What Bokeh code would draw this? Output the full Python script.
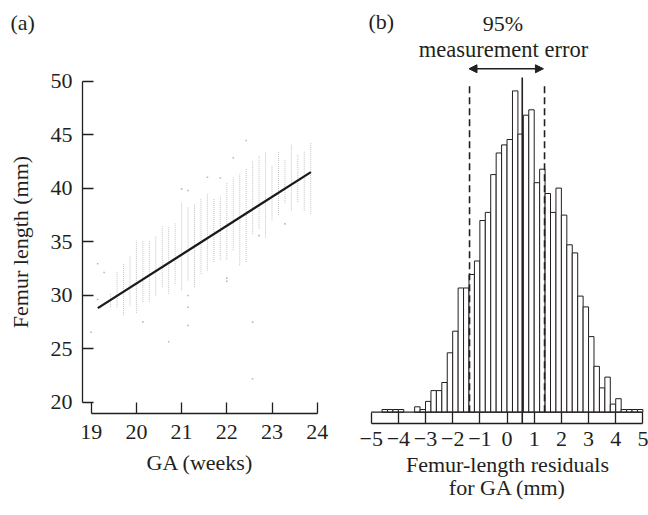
from bokeh.plotting import figure
from bokeh.models import FixedTicker, Label, Arrow, NormalHead, Title
from bokeh.embed import file_html
from bokeh.resources import INLINE

FONT = "Liberation Serif"
INK = "#231f20"
FS = "22px"

# ---------------- Panel (a): femur length vs GA ----------------
col_ga = [19.429, 19.571, 19.714, 19.857, 20.0, 20.143, 20.286, 20.429, 20.571, 20.714,
          20.857, 21.0, 21.143, 21.286, 21.429, 21.571, 21.714, 21.857, 22.0, 22.143,
          22.286, 22.429, 22.571, 22.714, 22.857, 23.0, 23.143, 23.286, 23.429, 23.571,
          23.714, 23.857]
col_lo = [28.88, 28.88, 28.16, 29.03, 28.35, 29.35, 29.35, 29.97, 30.75, 30.13,
          31.07, 30.44, 31.38, 30.75, 32.0, 32.3, 33.1, 33.3, 33.3, 34.2,
          32.8, 33.1, 35.7, 36.2, 35.4, 37.0, 37.5, 38.6, 37.9, 38.7,
          37.9, 37.6]
col_hi = [30.22, 32.19, 32.94, 33.62, 35.11, 35.11, 35.11, 35.58, 36.51, 36.36,
          36.73, 38.69, 38.22, 38.54, 39.0, 39.47, 39.0, 39.3, 40.5, 41.0,
          41.3, 41.8, 42.6, 43.1, 43.4, 42.1, 43.4, 42.7, 44.1, 43.2,
          43.5, 44.3]
out_ga = [19.0, 19.143, 19.143, 19.286, 20.143, 20.714, 21.0, 21.143, 21.143, 21.143,
          21.143, 21.571, 21.857, 22.0, 22.0, 22.143, 22.429, 22.571, 22.571, 22.714, 23.286]
out_fl = [26.54, 32.94, 29.60, 32.12, 27.51, 25.65, 39.94, 39.78, 29.97, 28.88,
          27.17, 41.03, 40.95, 31.6, 31.3, 42.84, 44.46, 27.48, 22.19, 35.57, 36.67]
fit_ga = [19.146, 23.86]
fit_fl = [28.79, 41.5]
a_xticks = [19, 20, 21, 22, 23, 24]
a_yticks = [20, 25, 30, 35, 40, 45, 50]

# ---------------- Panel (b): residual histogram ----------------
bin_edges = [-5.0, -4.8, -4.6, -4.4, -4.2, -4.0, -3.8, -3.6, -3.4, -3.2,
             -3.0, -2.8, -2.6, -2.4, -2.2, -2.0, -1.8, -1.6, -1.4, -1.2,
             -1.0, -0.8, -0.6, -0.4, -0.2, 0.0, 0.2, 0.4, 0.6, 0.8,
             1.0, 1.2, 1.4, 1.6, 1.8, 2.0, 2.2, 2.4, 2.6, 2.8,
             3.0, 3.2, 3.4, 3.6, 3.8, 4.0, 4.2, 4.4, 4.6, 4.8, 5.0]
counts = [0, 0, 1, 1, 1, 1, 0, 0, 2, 1,
          4, 8, 8, 11, 22, 30, 46, 46, 51, 56,
          71, 74, 88, 96, 99, 101, 119, 103, 110, 112,
          85, 90, 81, 74, 83, 73, 62, 59, 43, 39,
          28, 17, 9, 13, 3, 5, 1, 1, 1, 1]
limits_x = [-1.38, 1.38]
limits_top = 122
centre_x = 0.56
centre_top = 124
arrow_x = [-1.40, 1.34]
arrow_y = 127.2
b_xticks = [-5, -4, -3, -2, -1, 0, 1, 2, 3, 4, 5]
b_xlabels = ["\u22125", "\u22124", "\u22123", "\u22122", "\u22121", "0", "1", "2", "3", "4", "5"]


def style_axis(ax):
    ax.axis_line_color = INK
    ax.axis_line_width = 1.3
    ax.major_tick_line_color = INK
    ax.major_tick_line_width = 1.3
    ax.minor_tick_line_color = None
    ax.major_label_text_font = FONT
    ax.major_label_text_font_size = FS
    ax.major_label_text_color = INK
    ax.axis_label_text_font = FONT
    ax.axis_label_text_font_size = FS
    ax.axis_label_text_font_style = "normal"
    ax.axis_label_text_color = INK


# ---- figure a ----
pa = figure(width=340, height=515, x_range=(18.8075, 24.0066), y_range=(18.944, 51.0),
            output_backend="svg", toolbar_location=None,
            min_border_left=82, min_border_right=23, min_border_top=70, min_border_bottom=102)
pa.outline_line_color = None
pa.grid.visible = False

pa.segment(x0=col_ga, y0=col_lo, x1=col_ga, y1=col_hi, line_color="#c4c4c4",
           line_width=1, line_dash="1 1")
pa.scatter(out_ga, out_fl, marker="square", size=1.6, fill_color="#b8b8b8", line_color=None)
pa.line(fit_ga, fit_fl, line_color="#1a1a1a", line_width=2.3)

xa = pa.xaxis[0]
ya = pa.yaxis[0]
style_axis(xa)
style_axis(ya)
xa.ticker = FixedTicker(ticks=a_xticks)
ya.ticker = FixedTicker(ticks=a_yticks)
xa.bounds = (19, 24)
ya.bounds = (20, 50)
for ax in (xa, ya):
    ax.major_tick_in = 11
    ax.major_tick_out = 0
xa.major_label_standoff = 11
xa.axis_label_standoff = 8
ya.major_label_standoff = 10
ya.axis_label_standoff = 15
xa.axis_label = "GA (weeks)"
ya.axis_label = "Femur length (mm)"

# spacer above the frame, then the panel tag
pa.add_layout(Title(text=" ", text_font_size="1px", standoff=31), "above")
pa.add_layout(Title(text="(a)", align="left", offset=-72, standoff=4, text_font=FONT,
                    text_font_size=FS, text_font_style="normal", text_color=INK), "above")

# ---- figure b ----
pb = figure(width=308, height=515, x_range=(-5.172, 5.206), y_range=(-4.185, 152.48),
            output_backend="svg", toolbar_location=None, y_axis_location=None,
            min_border_left=26, min_border_right=0, min_border_top=0, min_border_bottom=92)
pb.outline_line_color = None
pb.grid.visible = False

lefts = [bin_edges[i] for i in range(len(counts)) if counts[i] > 0]
rights = [bin_edges[i + 1] for i in range(len(counts)) if counts[i] > 0]
tops = [c for c in counts if c > 0]
pb.quad(left=lefts, right=rights, bottom=0, top=tops, fill_color="white",
        line_color=INK, line_width=1)
pb.segment(x0=[bin_edges[0]], y0=[0], x1=[bin_edges[-1]], y1=[0], line_color=INK, line_width=1.3)
pb.segment(x0=limits_x, y0=[0, 0], x1=limits_x, y1=[limits_top, limits_top],
           line_color=INK, line_width=1.6, line_dash="7 4")
pb.segment(x0=[centre_x], y0=[-4.185], x1=[centre_x], y1=[centre_top],
           line_color=INK, line_width=1.6)

pb.add_layout(Arrow(start=NormalHead(size=8, fill_color=INK, line_color=INK),
                    end=NormalHead(size=8, fill_color=INK, line_color=INK),
                    x_start=arrow_x[0], y_start=arrow_y, x_end=arrow_x[1], y_end=arrow_y,
                    line_color=INK, line_width=1.3))

pb.add_layout(Label(x=-0.15, y=144.1, text="95%", text_font=FONT, text_font_size=FS,
                    text_color=INK, text_align="center", text_baseline="alphabetic"))
pb.add_layout(Label(x=-0.13, y=134.3, text="measurement error", text_font=FONT,
                    text_font_size="22.5px", text_color=INK, text_align="center",
                    text_baseline="alphabetic"))
pb.add_layout(Label(x=2, y=402.5, x_units="screen", y_units="screen", text="(b)",
                    text_font=FONT, text_font_size=FS, text_color=INK,
                    text_align="left", text_baseline="alphabetic"))

xb = pb.xaxis[0]
style_axis(xb)
xb.ticker = FixedTicker(ticks=b_xticks)
xb.major_label_overrides = {t: s for t, s in zip(b_xticks, b_xlabels)}
xb.bounds = (-5, 5)
xb.major_tick_in = 11
xb.major_tick_out = 0
xb.major_label_standoff = 8
xb.axis_label = "Femur-length residuals\nfor GA (mm)"
xb.axis_label_standoff = 3
xb.axis_label_text_line_height = 0.95

TEMPLATE = """{% block contents %}
<div style="display:flex; flex-direction:row; align-items:flex-start;">
{{ super() }}
</div>
{% endblock %}"""

open("out.html", "w").write(file_html([pa, pb], INLINE, template=TEMPLATE))
